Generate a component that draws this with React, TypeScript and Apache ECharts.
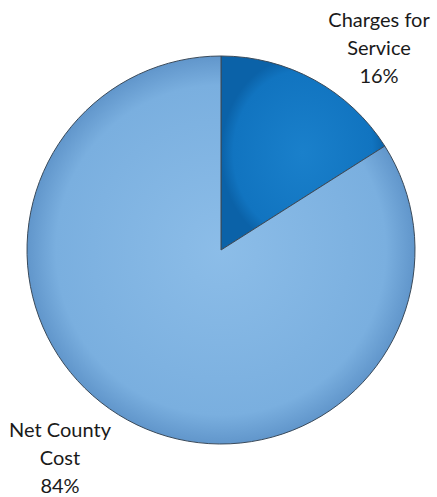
import React, { useEffect, useRef } from "react";
import * as echarts from "echarts";

const categories = ["Charges for\nService", "Net County\nCost"];
const values = [16, 84];
const labelPositions = [
  { x: 379, y: 47 },
  { x: 60, y: 457 },
];

export default function App() {
  const ref = useRef<HTMLDivElement>(null);
  useEffect(() => {
    document.body.style.margin = "0";
    if (!ref.current) return;
    const chart = echarts.init(ref.current, null, { renderer: "svg" });
    const fills = [
      new echarts.graphic.RadialGradient(0.5, 0.5, 0.5, [
        { offset: 0, color: "#1a80cb" },
        { offset: 0.85, color: "#1174c0" },
        { offset: 1, color: "#0b62a8" },
      ]),
      new echarts.graphic.RadialGradient(0.5, 0.5, 0.5, [
        { offset: 0, color: "#8cbde8" },
        { offset: 0.85, color: "#7aafdf" },
        { offset: 1, color: "#6196cb" },
      ]),
    ];
    chart.setOption({
      animation: false,
      series: [
        {
          type: "pie",
          center: [221, 250],
          radius: 194,
          startAngle: 90,
          clockwise: true,
          data: categories.map((c, i) => ({
            name: c,
            value: values[i],
            itemStyle: { color: fills[i] },
          })),
          itemStyle: { borderColor: "#3a4a5a", borderWidth: 1 },
          label: {
            show: true,
            formatter: "{b}\n{d}%",
            fontFamily: "Lato, 'Open Sans', sans-serif",
            fontSize: 20,
            lineHeight: 28,
            color: "#1a1a1a",
            align: "center",
            width: 200,
            overflow: "none",
          },
          labelLine: { show: false },
          labelLayout: (params: any) => {
            const p = labelPositions[params.dataIndex];
            return { x: p.x, y: p.y, align: "center", verticalAlign: "middle" };
          },
          emphasis: { disabled: true },
        },
      ],
    });
    return () => chart.dispose();
  }, []);
  return <div ref={ref} style={{ width: 437, height: 497 }} />;
}
